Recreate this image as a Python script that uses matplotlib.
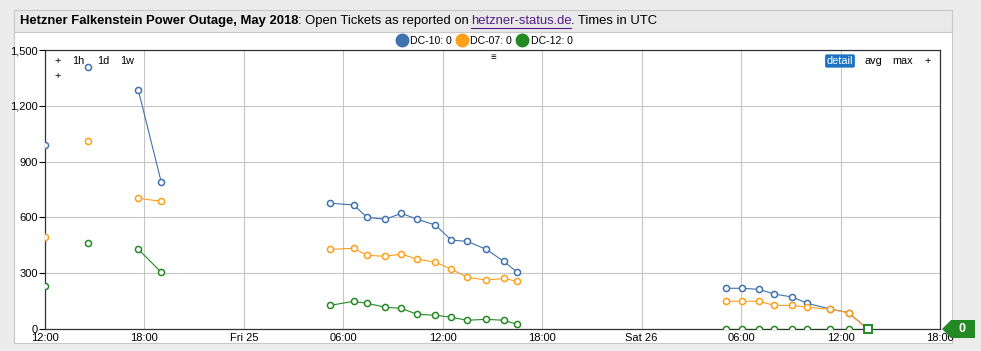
import numpy as np
import pandas as pd
import matplotlib.pyplot as plt
import matplotlib.dates as mdates
from matplotlib.lines import Line2D
from matplotlib.patches import Rectangle, Polygon
from matplotlib.ticker import FixedLocator, FuncFormatter

plt.rcParams["font.family"] = ["Liberation Sans", "DejaVu Sans"]

# ── data ─────────────────────────────────────────────────────────────────────
times = pd.to_datetime([
    "2018-05-24 12:00", "2018-05-24 14:35",
    "2018-05-24 17:38", "2018-05-24 19:01",
    "2018-05-25 05:13", "2018-05-25 06:37", "2018-05-25 07:26",
    "2018-05-25 08:32", "2018-05-25 09:30", "2018-05-25 10:27",
    "2018-05-25 11:33", "2018-05-25 12:31", "2018-05-25 13:29",
    "2018-05-25 14:38", "2018-05-25 15:40", "2018-05-25 16:30",
    "2018-05-26 05:07", "2018-05-26 06:04", "2018-05-26 07:05",
    "2018-05-26 08:00", "2018-05-26 09:05", "2018-05-26 10:00",
    "2018-05-26 11:21", "2018-05-26 12:29", "2018-05-26 13:38",
])
# contiguous runs of samples (gaps between runs are not joined)
segment = [0, 1, 2, 2] + [3] * 12 + [4] * 9

dc10 = [990, 1407, 1283, 789,
        676, 667, 600, 590, 622, 590, 559, 478, 471, 428, 364, 305,
        219, 219, 213, 188, 172, 138, 108, 88, 0]
dc07 = [493, 1009, 703, 686,
        428, 434, 396, 391, 403, 375, 360, 321, 278, 263, 272, 256,
        149, 149, 149, 127, 127, 117, 106, 88, 0]
dc12 = [230, 461, 428, 305,
        127, 149, 138, 117, 111, 79, 74, 63, 47, 52, 47, 25,
        0, 0, 0, 0, 0, 0, 0, 0, 0]

series = [("DC-10", dc10, "#3f72ae"),
          ("DC-07", dc07, "#ff9f1a"),
          ("DC-12", dc12, "#238a23")]

tick_times = pd.date_range("2018-05-24 12:00", "2018-05-26 18:00", freq="6h")
tick_labels = ["12:00", "18:00", "Fri 25", "06:00", "12:00",
               "18:00", "Sat 26", "06:00", "12:00", "18:00"]
y_ticks = [0, 300, 600, 900, 1200, 1500]

# ── figure / panel chrome ────────────────────────────────────────────────────
W, H = 981, 351
fig = plt.figure(figsize=(W / 100, H / 100), dpi=100, facecolor="#ececec")


def fx(px):
    return px / W


def fy(py):
    return 1 - py / H


fig.patches.append(Rectangle((fx(14), fy(343)), fx(952) - fx(14), fy(10) - fy(343),
                             transform=fig.transFigure, fc="white",
                             ec="#c8c8c8", lw=0.8, zorder=-2))
fig.patches.append(Rectangle((fx(14), fy(32)), fx(952) - fx(14), fy(10) - fy(32),
                             transform=fig.transFigure, fc="#e9e9e9",
                             ec="#c8c8c8", lw=0.8, zorder=-1))

# title built from styled pieces
renderer = fig.canvas.get_renderer()
x = fx(20)
pieces = [("Hetzner Falkenstein Power Outage, May 2018", "bold", "black", 0),
          (": Open Tickets as reported on", "normal", "black", 1.5),
          ("hetzner-status.de", "normal", "#551a8b", 0),
          (". Times in UTC", "normal", "black", 0)]
for txt, wt, col, gap in pieces:
    t = fig.text(x, fy(21), txt, fontsize=9.35, fontweight=wt, color=col,
                 va="center", ha="left")
    bb = t.get_window_extent(renderer)
    if txt.startswith("hetzner"):
        fig.add_artist(Line2D([x, x + bb.width / W], [fy(28), fy(28)],
                              transform=fig.transFigure, color=col, lw=0.8))
    x += (bb.width + gap) / W

# ── axes ─────────────────────────────────────────────────────────────────────
ax = fig.add_axes([fx(45), fy(329), fx(940) - fx(45), fy(50) - fy(329)])
ax.set_facecolor("white")

for name, vals, col in series:
    v = np.array(vals, dtype=float)
    seg = np.array(segment)
    for s in np.unique(seg):
        m = seg == s
        ax.plot(times[m], v[m], "-", color=col, lw=0.8, marker="o", ms=4.4,
                mfc="white", mec=col, mew=1.1, zorder=3)

# highlighted last sample
ax.plot(times[-1:], [dc12[-1]], "s", ms=5.5, mfc="white", mec="#238a23",
        mew=1.4, zorder=5, clip_on=False)

ax.set_xlim(tick_times[0], tick_times[-1])
ax.set_ylim(0, 1500)
ax.xaxis.set_major_locator(FixedLocator(mdates.date2num(tick_times)))
ax.set_xticklabels(tick_labels)
ax.set_yticks(y_ticks)
ax.yaxis.set_major_formatter(FuncFormatter(lambda v, p: f"{int(v):,}"))
ax.tick_params(axis="x", length=0, pad=3, labelsize=8)
ax.tick_params(axis="y", length=4, width=0.8, pad=1, labelsize=8)
ax.grid(True, color="#c6c6c6", lw=0.8)
ax.set_axisbelow(True)
for sp in ax.spines.values():
    sp.set_color("#333333")
    sp.set_linewidth(0.9)

# ── legend & widget labels ───────────────────────────────────────────────────
handles = [Line2D([], [], ls="", marker="o", ms=9, color=c) for _, _, c in series]
labels = [f"{n}: {v[-1]}" for n, v, _ in series]
fig.legend(handles, labels, loc="center", bbox_to_anchor=(fx(485), fy(41)),
           ncol=3, frameon=False, fontsize=7.6, handlelength=0.8,
           handletextpad=0.4, columnspacing=0.55, borderpad=0)
fig.text(fx(493), fy(57), "≡", fontsize=7, ha="center", va="center")

for txt, px, py in [("+", 58, 61), ("1h", 78, 61), ("1d", 103, 61),
                    ("1w", 127, 61), ("+", 58, 76),
                    ("avg", 873, 61), ("max", 903, 61), ("+", 928, 61)]:
    fig.text(fx(px), fy(py), txt, fontsize=7.8, ha="center", va="center")
fig.text(fx(840), fy(61), "detail", fontsize=7.8, ha="center", va="center",
         color="white",
         bbox=dict(boxstyle="round,pad=0.15", fc="#1c73c2", ec="none"))

# last-value flag on the right
fig.patches.append(Polygon([(fx(942), fy(329)), (fx(951), fy(320)),
                            (fx(975), fy(320)), (fx(975), fy(338)),
                            (fx(951), fy(338))],
                           closed=True, transform=fig.transFigure,
                           fc="#238a23", ec="none", zorder=5))
fig.text(fx(962), fy(329), "0", color="white", fontsize=9, fontweight="bold",
         ha="center", va="center", zorder=6)

fig.savefig("out.png", dpi=100, facecolor=fig.get_facecolor())
